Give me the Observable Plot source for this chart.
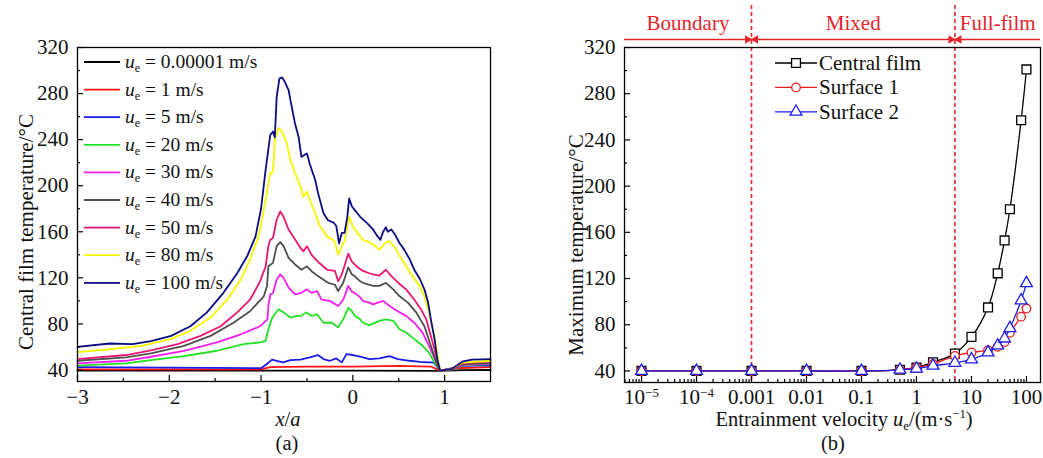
<!DOCTYPE html>
<html>
<head>
<meta charset="utf-8">
<script src="https://cdn.jsdelivr.net/npm/d3@7"></script>
<script src="https://cdn.jsdelivr.net/npm/@observablehq/plot@0.6"></script>
<style>
  html, body { margin: 0; padding: 0; background: #fff; }
  #wrap { position: relative; width: 1043px; height: 458px; display: flex; }
  #wrap svg { display: block; overflow: visible; }
</style>
</head>
<body>
<div id="wrap"></div>
<script>
// ---------------- Panel (a) data ----------------
const xTicksA = [-3, -2, -1, 0, 1];
const xMinorA = [-2.5, -1.5, -0.5, 0.5];
const yTicks = [40, 80, 120, 160, 200, 240, 280, 320];
const yMinor = [60, 100, 140, 180, 220, 260, 300];

const seriesLabelsA = ["0.00001", "1", "5", "20", "30", "40", "50", "80", "100"];
const seriesColorsA = ["#000000", "#ff1212", "#1c1ce8", "#22e022", "#f01ef0", "#4f4f4f", "#e6186f", "#f6f600", "#0c0c82"];

const ue00001 = [[-3, 39.5], [-1, 39.5], [0, 39.5], [0.95, 39.2], [1.2, 39.8], [1.5, 40]];
const ue1 = [[-3, 40.5], [-1, 40.5], [-0.9, 42.5], [-0.5, 43], [0, 43], [0.5, 43.5], [0.85, 43], [0.95, 39.5], [1.1, 41.5], [1.5, 42.5]];
const ue5 = [[-3, 42.5], [-2, 42], [-1, 41.5], [-0.94, 45], [-0.88, 49], [-0.83, 48], [-0.76, 46.6], [-0.68, 48.6], [-0.57, 49], [-0.47, 51], [-0.38, 53], [-0.32, 49.5], [-0.25, 48], [-0.18, 50], [-0.12, 46.6], [-0.07, 53.8], [0, 53], [0.07, 51.8], [0.18, 49.5], [0.29, 50], [0.4, 52], [0.49, 49.5], [0.62, 48], [0.73, 47], [0.82, 46.6], [0.88, 46.6], [0.95, 39.5], [1.05, 41], [1.2, 43.5], [1.5, 44]];
const ue20 = [[-3, 43.7], [-2.47, 45.7], [-2.2, 48.5], [-1.84, 52], [-1.48, 56.7], [-1.19, 62.4], [-1.01, 64], [-0.95, 65.3], [-0.92, 75.4], [-0.88, 85], [-0.81, 92.7], [-0.755, 90], [-0.68, 85.5], [-0.61, 87], [-0.56, 87], [-0.51, 90], [-0.45, 87], [-0.39, 88.4], [-0.32, 81], [-0.23, 81], [-0.16, 77], [-0.105, 84], [-0.05, 94], [-0.01, 91], [0.02, 87], [0.08, 84], [0.11, 81], [0.18, 79], [0.29, 82.6], [0.36, 84], [0.44, 82.6], [0.51, 75.4], [0.58, 72.5], [0.67, 66.8], [0.76, 61], [0.83, 55], [0.89, 46.6], [0.95, 39.5], [1.08, 40.5], [1.2, 44], [1.5, 45]];
const ue30 = [[-3, 45.7], [-2.47, 48], [-2.2, 51.5], [-1.84, 56.5], [-1.48, 64], [-1.22, 71], [-1.01, 78], [-0.93, 84], [-0.92, 95.5], [-0.9, 105.6], [-0.87, 106.6], [-0.83, 118.6], [-0.79, 123], [-0.755, 120], [-0.7, 111.5], [-0.63, 105.6], [-0.56, 107], [-0.5, 110], [-0.45, 107], [-0.39, 108.5], [-0.34, 101], [-0.25, 100], [-0.16, 95.5], [-0.105, 101], [-0.05, 113], [-0.01, 108], [0.02, 107], [0.08, 103], [0.11, 100], [0.18, 98.5], [0.22, 97], [0.33, 100], [0.4, 95.5], [0.49, 91], [0.58, 87], [0.67, 81], [0.76, 72.5], [0.83, 61], [0.91, 46.6], [0.95, 39.5], [1.08, 40.5], [1.2, 44.5], [1.5, 45.5]];
const ue40 = [[-3, 48], [-2.47, 51], [-2.2, 54.5], [-1.84, 61], [-1.55, 69.6], [-1.3, 81], [-1.12, 91], [-0.97, 104], [-0.935, 113], [-0.92, 130], [-0.87, 133], [-0.83, 147.5], [-0.79, 151], [-0.755, 147.5], [-0.7, 137.4], [-0.63, 131.6], [-0.56, 127], [-0.5, 130], [-0.45, 125.8], [-0.38, 121.5], [-0.27, 115.7], [-0.195, 114], [-0.16, 108.5], [-0.105, 115.7], [-0.05, 129], [-0.01, 123], [0.02, 121.5], [0.08, 117], [0.11, 115.7], [0.22, 113], [0.29, 113], [0.36, 115.7], [0.44, 110], [0.51, 104], [0.6, 98.5], [0.69, 90], [0.78, 78], [0.85, 61], [0.91, 46.6], [0.95, 39.5], [1.08, 40.5], [1.2, 45], [1.5, 46]];
const ue50 = [[-3, 49.5], [-2.47, 53], [-2.2, 57], [-1.91, 62.4], [-1.66, 69.6], [-1.44, 78], [-1.26, 90], [-1.12, 101], [-1.01, 117], [-0.95, 130], [-0.92, 147.5], [-0.9, 153], [-0.87, 154.6], [-0.83, 170.5], [-0.79, 177.7], [-0.755, 173], [-0.7, 162], [-0.65, 156], [-0.57, 146], [-0.54, 143], [-0.5, 147.5], [-0.45, 140], [-0.38, 134], [-0.28, 127], [-0.195, 126], [-0.16, 117], [-0.12, 123], [-0.07, 136], [-0.05, 141], [-0.01, 134], [0.02, 131.6], [0.06, 128.7], [0.11, 126], [0.18, 124], [0.22, 123], [0.29, 122], [0.36, 127], [0.42, 121.5], [0.49, 116], [0.58, 110], [0.67, 101], [0.74, 93], [0.8, 84], [0.85, 69.6], [0.91, 52], [0.95, 39.5], [1.08, 41], [1.2, 46], [1.5, 47.5]];
const ue80 = [[-3, 55.5], [-2.65, 58], [-2.3, 61], [-1.98, 67], [-1.77, 74], [-1.55, 85.5], [-1.37, 101], [-1.22, 118.6], [-1.12, 136], [-1.04, 153], [-1.01, 162], [-0.97, 179], [-0.9, 211], [-0.87, 212], [-0.85, 240], [-0.81, 250], [-0.77, 247], [-0.72, 237], [-0.68, 222], [-0.63, 211], [-0.57, 199], [-0.54, 190.6], [-0.5, 195], [-0.47, 188], [-0.41, 176], [-0.36, 165], [-0.28, 156], [-0.2, 152], [-0.16, 140], [-0.12, 147.5], [-0.09, 152], [-0.04, 173], [0, 165], [0.02, 162], [0.08, 156], [0.11, 153], [0.18, 151], [0.22, 149], [0.29, 144.5], [0.35, 150], [0.4, 152], [0.46, 146], [0.51, 139], [0.58, 130], [0.65, 121.5], [0.73, 113], [0.78, 104], [0.83, 90], [0.89, 69.6], [0.95, 39.5], [1.08, 41], [1.2, 46.5], [1.5, 48]];
const ue100 = [[-3, 60], [-2.65, 63], [-2.4, 62.5], [-2.2, 65], [-1.98, 69.6], [-1.77, 78], [-1.59, 90], [-1.41, 107], [-1.26, 124], [-1.15, 139], [-1.06, 156], [-1.0, 180], [-0.95, 214], [-0.9, 244], [-0.87, 247], [-0.85, 242], [-0.83, 277], [-0.8, 293], [-0.77, 294], [-0.74, 290], [-0.7, 283], [-0.66, 266], [-0.63, 254], [-0.59, 242], [-0.56, 225], [-0.52, 227], [-0.5, 228], [-0.47, 219], [-0.41, 205], [-0.38, 194], [-0.32, 176], [-0.27, 170], [-0.21, 168], [-0.18, 165], [-0.15, 150], [-0.12, 159], [-0.09, 159], [-0.06, 173], [-0.04, 189], [-0.01, 182], [0.02, 179], [0.08, 173], [0.15, 168], [0.22, 162], [0.27, 156], [0.3, 153], [0.33, 160], [0.36, 164], [0.38, 160], [0.42, 162], [0.46, 157.5], [0.51, 150], [0.56, 144.5], [0.62, 136], [0.67, 127], [0.73, 119], [0.78, 110], [0.82, 98.5], [0.85, 84], [0.89, 67], [0.92, 49.5], [0.95, 39.5], [1.08, 41], [1.2, 47.5], [1.3, 49], [1.5, 49.5]];

const seriesPointsA = [ue00001, ue1, ue5, ue20, ue30, ue40, ue50, ue80, ue100];

// ---------------- Panel (b) data ----------------
const ueB = [1e-5, 1e-4, 1e-3, 0.01, 0.1, 0.5, 1, 2, 5, 10, 20, 30, 40, 50, 80, 100];
const centralFilm = [40, 40, 40, 40, 40, 41, 43, 47.5, 55, 69.5, 95, 124.5, 153, 180, 257, 301];
const surface1 = [40, 40, 40, 40, 40, 41, 43, 46, 53, 56, 58, 61, 65, 73, 87, 94];
const surface2 = [40, 40, 40, 40, 40, 41, 42, 44.5, 47, 50, 56, 62, 68, 77, 101, 116];
const seriesNamesB = ["Central film", "Surface 1", "Surface 2"];
const seriesColorsB = ["#000000", "#e61e1e", "#1e1ee6"];
const seriesSymbolsB = ["square", "circle", "triangle"];
const seriesValuesB = [centralFilm, surface1, surface2];

const xDomainB = [4.9e-6, 180];
const xTicksB = [1e-5, 1e-4, 1e-3, 0.01, 0.1, 1, 10, 100];
const xTickLabelsB = ["10^-5", "10^-4", "0.001", "0.01", "0.1", "1", "10", "100"];
const regimeBounds = [0.001, 5];
const regimeLabels = ["Boundary", "Mixed", "Full-film"];
const regimeRed = "#e3242b";

const FONT = '"Liberation Serif", "Times New Roman", serif';
const TXT = "#111";

// ---------------- Panel (a) ----------------
const WA = 520, HA = 458, mLA = 77, mRA = 30, mTA = 47, mBA = 77;
const frameHA = HA - mTA - mBA, frameWA = WA - mLA - mRA;
const fmtA = d => (d < 0 ? "\u2212" + Math.abs(d) : String(d));

const svgA = Plot.plot({
  width: WA, height: HA,
  marginLeft: mLA, marginRight: mRA, marginTop: mTA, marginBottom: mBA,
  style: { fontFamily: FONT, fontSize: "21px", color: TXT, background: "transparent", overflow: "visible" },
  x: { domain: [-3, 1.5] },
  y: { domain: [30, 320] },
  marks: [
    ...seriesPointsA.map((pts, i) => Plot.line(pts, {
      x: d => d[0], y: d => d[1], stroke: seriesColorsA[i], strokeWidth: 1.8, strokeLinejoin: "round"
    })),
    Plot.frame({ stroke: "#000", strokeWidth: 1.3 }),
    Plot.ruleX(xTicksA, { x: d => d, insetTop: frameHA - 6, stroke: "#000", strokeWidth: 1.2 }),
    Plot.ruleX(xMinorA, { x: d => d, insetTop: frameHA - 3, stroke: "#000", strokeWidth: 1.2 }),
    Plot.ruleY(yTicks, { y: d => d, insetRight: frameWA - 6, stroke: "#000", strokeWidth: 1.2 }),
    Plot.ruleY(yMinor, { y: d => d, insetRight: frameWA - 3, stroke: "#000", strokeWidth: 1.2 }),
    Plot.axisX({ ticks: xTicksA, tickSize: 0, tickPadding: 8, label: null, fontSize: 21, tickFormat: fmtA }),
    Plot.axisY({ ticks: yTicks, tickSize: 0, tickPadding: 9, label: null, fontSize: 21 })
  ]
});

// ---------------- Panel (b) ----------------
const WB = 523, HB = 458, mLB = 104, mRB = 3, mTB = 47, mBB = 76;
const frameHB = HB - mTB - mBB, frameWB = WB - mLB - mRB;

const xMinorB = [];
for (let k = -6; k <= 2; k++) for (let m = 2; m <= 9; m++) {
  const v = m * Math.pow(10, k);
  if (v > xDomainB[0] && v < xDomainB[1]) xMinorB.push(v);
}
const rowsB = [];
seriesValuesB.forEach((vals, s) => vals.forEach((v, i) => rowsB.push({ ue: ueB[i], T: v, s })));

const lg = Math.log10;
const edgesLog = [lg(xDomainB[0]), lg(regimeBounds[0]), lg(regimeBounds[1]), lg(xDomainB[1])];
const regimeRows = regimeLabels.map((name, i) => ({ name, x: Math.pow(10, (edgesLog[i] + edgesLog[i + 1]) / 2) }));
const headRows = [];
regimeBounds.forEach(b => { headRows.push({ x: b, side: -1 }); headRows.push({ x: b, side: 1 }); });

const svgB = Plot.plot({
  width: WB, height: HB,
  marginLeft: mLB, marginRight: mRB, marginTop: mTB, marginBottom: mBB,
  style: { fontFamily: FONT, fontSize: "21px", color: TXT, background: "transparent", overflow: "visible" },
  x: { type: "log", domain: xDomainB },
  y: { domain: [30, 320] },
  marks: [
    Plot.ruleX(regimeBounds, { x: d => d, insetTop: -42, stroke: regimeRed, strokeWidth: 1.6, strokeDasharray: "4,3" }),
    Plot.ruleY([320], { y: d => d, x1: () => xDomainB[0], x2: () => xDomainB[1], dy: -8, stroke: regimeRed, strokeWidth: 1.6 }),
    Plot.dot(headRows.filter(d => d.side < 0), { x: "x", y: () => 320, dy: -8, dx: -4, symbol: "triangle", r: 3.2, rotate: 90, fill: regimeRed, stroke: "none" }),
    Plot.dot(headRows.filter(d => d.side > 0), { x: "x", y: () => 320, dy: -8, dx: 4, symbol: "triangle", r: 3.2, rotate: -90, fill: regimeRed, stroke: "none" }),
    Plot.text(regimeRows, { x: "x", y: () => 320, dy: -24, text: "name", fill: regimeRed, fontSize: 21 }),
    ...seriesValuesB.map((vals, s) => [
      Plot.line(rowsB.filter(r => r.s === s), { x: "ue", y: "T", stroke: seriesColorsB[s], strokeWidth: 1.3, curve: "catmull-rom" }),
      Plot.dot(rowsB.filter(r => r.s === s), { x: "ue", y: "T", symbol: seriesSymbolsB[s], r: s === 0 ? 5 : (s === 1 ? 4.3 : 4.4), stroke: seriesColorsB[s], fill: "white", strokeWidth: 1.3 })
    ]).flat(),
    Plot.frame({ stroke: "#000", strokeWidth: 1.3 }),
    Plot.ruleX(xTicksB, { x: d => d, insetTop: frameHB - 6, stroke: "#000", strokeWidth: 1.2 }),
    Plot.ruleX(xMinorB, { x: d => d, insetTop: frameHB - 3, stroke: "#000", strokeWidth: 1.2 }),
    Plot.ruleY(yTicks, { y: d => d, insetRight: frameWB - 6, stroke: "#000", strokeWidth: 1.2 }),
    Plot.ruleY(yMinor, { y: d => d, insetRight: frameWB - 3, stroke: "#000", strokeWidth: 1.2 }),
    Plot.axisX({ ticks: xTicksB, tickSize: 0, tickPadding: 7, label: null, fontSize: 21, tickFormat: d => xTickLabelsB[xTicksB.indexOf(d)] }),
    Plot.axisY({ ticks: yTicks, tickSize: 0, tickPadding: 9, label: null, fontSize: 21 })
  ]
});

const wrap = document.getElementById("wrap");
wrap.appendChild(svgA);
wrap.appendChild(svgB);

// superscript tick labels like 10^-5
d3.select(svgB).selectAll("text").each(function () {
  const t = this.textContent;
  const m = /^10\^(-?\d+)$/.exec(t);
  if (m) {
    const sel = d3.select(this);
    sel.text(null);
    sel.append("tspan").text("10");
    sel.append("tspan").attr("font-size", "0.62em").attr("dy", "-0.55em").text(m[1].replace("-", "\u2212"));
  }
});

function addText(svg, opts, parts) {
  const t = d3.select(svg).append("text")
    .attr("x", opts.x).attr("y", opts.y)
    .attr("font-family", FONT).attr("font-size", opts.size || 21)
    .attr("fill", opts.fill || TXT)
    .attr("text-anchor", opts.anchor || "start");
  if (opts.rotate) t.attr("transform", `rotate(-90 ${opts.x} ${opts.y})`);
  parts.forEach(p => {
    const s = t.append("tspan").text(p.t);
    if (p.italic) s.attr("font-style", "italic");
    if (p.size) s.attr("font-size", p.size);
    if (p.dy) s.attr("dy", p.dy);
  });
  return t;
}

// Panel (a) legend
seriesLabelsA.forEach((lab, i) => {
  const y = 62 + i * 27.6;
  d3.select(svgA).append("line").attr("x1", 84).attr("x2", 120).attr("y1", y).attr("y2", y)
    .attr("stroke", seriesColorsA[i]).attr("stroke-width", 1.8);
  addText(svgA, { x: 125, y: y + 6, size: 19.5 }, [
    { t: "u", italic: true },
    { t: "e", size: "0.62em", dy: 4 },
    { t: ` = ${lab} m/s`, dy: -4 }
  ]);
});

// Panel (a) titles
addText(svgA, { x: 33, y: 232, rotate: true, anchor: "middle" }, [{ t: "Central film temperature/°C" }]);
addText(svgA, { x: 288, y: 426, anchor: "middle", size: 20.5 }, [{ t: "x", italic: true }, { t: "/" }, { t: "a", italic: true }]);
addText(svgA, { x: 287, y: 450, anchor: "middle", size: 20.5 }, [{ t: "(a)" }]);

// Panel (b) legend
seriesNamesB.forEach((name, i) => {
  const y = 63 + i * 24.4;
  const g = d3.select(svgB).append("g");
  g.append("line").attr("x1", 255).attr("x2", 297).attr("y1", y).attr("y2", y)
    .attr("stroke", seriesColorsB[i]).attr("stroke-width", 1.3);
  const symMap = { square: d3.symbolSquare, circle: d3.symbolCircle, triangle: d3.symbolTriangle };
  const rr = i === 0 ? 5 : (i === 1 ? 4.3 : 4.4);
  g.append("path").attr("d", d3.symbol(symMap[seriesSymbolsB[i]], rr * rr * Math.PI)())
    .attr("transform", `translate(276,${y})`)
    .attr("fill", "white").attr("stroke", seriesColorsB[i]).attr("stroke-width", 1.3);
  addText(svgB, { x: 299, y: y + 7 }, [{ t: name }]);
});

// Panel (b) titles
addText(svgB, { x: 63, y: 245, rotate: true, anchor: "middle" }, [{ t: "Maximum temperature/°C" }]);
addText(svgB, { x: 324, y: 426, anchor: "middle", size: 20.5 }, [
  { t: "Entrainment velocity " },
  { t: "u", italic: true },
  { t: "e", size: "0.62em", dy: 4 },
  { t: "/(m·s", dy: -4 },
  { t: "\u22121", size: "0.62em", dy: -8 },
  { t: ")", dy: 8 }
]);
addText(svgB, { x: 313, y: 450, anchor: "middle", size: 20.5 }, [{ t: "(b)" }]);
</script>
</body>
</html>
